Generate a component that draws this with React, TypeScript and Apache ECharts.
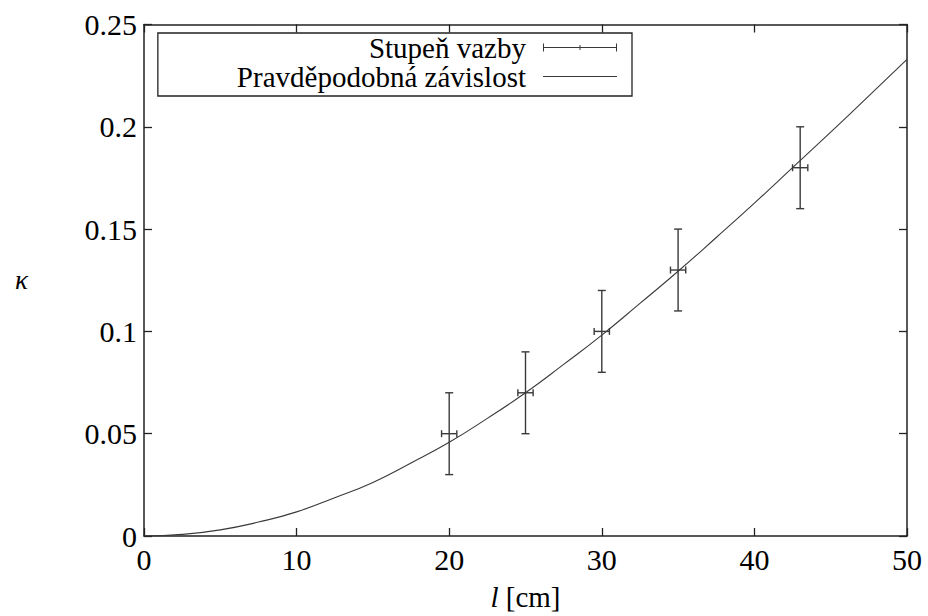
import React, { useEffect, useRef } from "react";
import * as echarts from "echarts";

// Measured points (Stupeň vazby)
const lengths = [20, 25, 30, 35, 43];
const kappas = [0.05, 0.07, 0.1, 0.13, 0.18];
const lengthErrors = [0.5, 0.5, 0.5, 0.5, 0.5];
const kappaErrors = [0.02, 0.02, 0.02, 0.02, 0.02];

// Probable dependence (Pravděpodobná závislost)
const curveL = [0, 2.5, 5, 7.5, 10, 12.5, 15, 17.5, 20, 22.5, 25, 27.5, 30, 32.5, 35, 37.5, 40, 42.5, 45, 47.5, 50];
const curveK = [0, 0.0008, 0.003, 0.0068, 0.0118, 0.0187, 0.0262, 0.0357, 0.0458, 0.0575, 0.07, 0.0839, 0.0982, 0.1137, 0.1294, 0.1459, 0.1627, 0.18, 0.1974, 0.2151, 0.233];

const seriesNames = ["Stupeň vazby", "Pravděpodobná závislost"];

export default function App() {
  const ref = useRef<HTMLDivElement>(null);
  useEffect(() => {
    const chart = echarts.init(ref.current!, null, { renderer: "svg" });
    const font = "'Liberation Serif', 'DejaVu Serif', serif";
    const axisColor = "#222";
    const errData = lengths.map((l, i) => [l, kappas[i], lengthErrors[i], kappaErrors[i]]);
    const curveData = curveL.map((l, i) => [l, curveK[i]]);
    const tickStyle = { show: true, inside: true, length: 8, lineStyle: { color: axisColor, width: 1.3 } };

    chart.setOption({
      animation: false,
      backgroundColor: "#fff",
      textStyle: { fontFamily: font },
      grid: { left: 144, top: 24.5, right: 21, bottom: 79, show: false },
      legend: {
        orient: "vertical",
        align: "right",
        right: 296,
        top: 33,
        padding: [0, 15, 5, 79],
        itemGap: 0,
        itemWidth: 74,
        itemHeight: 8,
        borderColor: "#222",
        borderWidth: 1.3,
        textStyle: { fontFamily: font, fontSize: 29, color: "#000", padding: [0, 12, 0, 0] },
        data: [
          { name: seriesNames[0], icon: "path://M0,3.5 h74 v1 h-74 z M0,0 h1 v8 h-1 z M73,0 h1 v8 h-1 z M36.5,1.5 h1 v5 h-1 z" },
          { name: seriesNames[1], icon: "path://M0,0 h74 v1 h-74 z" },
        ],
      },
      xAxis: [
        {
          type: "value",
          min: 0,
          max: 50,
          interval: 10,
          name: "{i|l} [cm]",
          nameLocation: "middle",
          nameGap: 46,
          nameTextStyle: {
            fontFamily: font,
            fontSize: 29,
            color: "#000",
            rich: { i: { fontFamily: font, fontSize: 29, fontStyle: "italic", color: "#000" } },
          },
          axisLine: { show: true, lineStyle: { color: axisColor, width: 1.5 } },
          axisTick: tickStyle,
          axisLabel: { fontFamily: font, fontSize: 30, color: "#000", margin: 8 },
          splitLine: { show: false },
        },
        {
          type: "value",
          position: "top",
          min: 0,
          max: 50,
          interval: 10,
          axisLine: { show: true, onZero: false, lineStyle: { color: axisColor, width: 1.5 } },
          axisTick: tickStyle,
          axisLabel: { show: false },
          splitLine: { show: false },
        },
      ],
      yAxis: [
        {
          type: "value",
          min: 0,
          max: 0.25,
          interval: 0.05,
          name: "κ",
          nameLocation: "middle",
          nameRotate: 0,
          nameGap: 116,
          nameTextStyle: { fontFamily: font, fontSize: 27, fontStyle: "italic", color: "#000" },
          axisLine: { show: true, lineStyle: { color: axisColor, width: 1.5 } },
          axisTick: tickStyle,
          axisLabel: { fontFamily: font, fontSize: 30, color: "#000", margin: 7 },
          splitLine: { show: false },
        },
        {
          type: "value",
          position: "right",
          min: 0,
          max: 0.25,
          interval: 0.05,
          axisLine: { show: true, onZero: false, lineStyle: { color: axisColor, width: 1.5 } },
          axisTick: tickStyle,
          axisLabel: { show: false },
          splitLine: { show: false },
        },
      ],
      series: [
        {
          name: seriesNames[0],
          type: "custom",
          xAxisIndex: 0,
          yAxisIndex: 0,
          itemStyle: { color: "#3a3a3a" },
          encode: { x: 0, y: 1 },
          data: errData,
          z: 3,
          renderItem: (params: any, api: any) => {
            const x = api.value(0);
            const y = api.value(1);
            const dx = api.value(2);
            const dy = api.value(3);
            const top = api.coord([x, y + dy]);
            const bot = api.coord([x, y - dy]);
            const left = api.coord([x - dx, y]);
            const right = api.coord([x + dx, y]);
            const style = { stroke: "#3a3a3a", lineWidth: 1.4 };
            const cw = 4;
            const ch = 3.5;
            const ln = (x1: number, y1: number, x2: number, y2: number) => ({
              type: "line",
              shape: { x1, y1, x2, y2 },
              style,
            });
            return {
              type: "group",
              children: [
                ln(top[0], top[1], bot[0], bot[1]),
                ln(top[0] - cw, top[1], top[0] + cw, top[1]),
                ln(bot[0] - cw, bot[1], bot[0] + cw, bot[1]),
                ln(left[0], left[1], right[0], right[1]),
                ln(left[0], left[1] - ch, left[0], left[1] + ch),
                ln(right[0], right[1] - ch, right[0], right[1] + ch),
              ],
            };
          },
        },
        {
          name: seriesNames[1],
          type: "line",
          xAxisIndex: 0,
          yAxisIndex: 0,
          data: curveData,
          smooth: true,
          showSymbol: false,
          symbol: "none",
          itemStyle: { color: "#3a3a3a" },
          lineStyle: { color: "#3a3a3a", width: 1.1 },
          z: 2,
        },
      ],
    });
    return () => chart.dispose();
  }, []);
  return (
    <div
      ref={ref}
      style={{ position: "fixed", left: 0, top: 0, width: 928, height: 616, background: "#fff" }}
    />
  );
}
